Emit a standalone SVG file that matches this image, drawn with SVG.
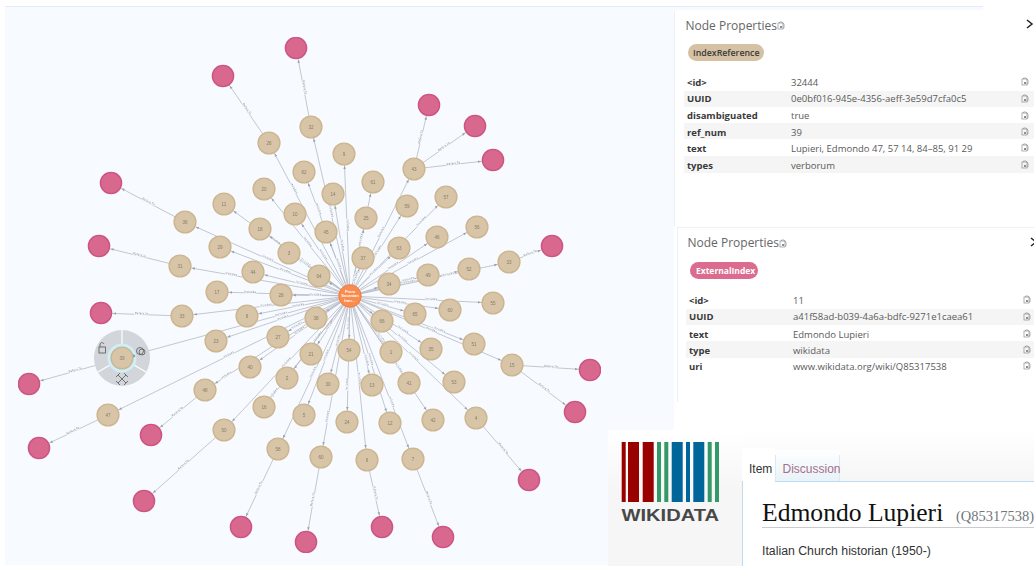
<svg xmlns="http://www.w3.org/2000/svg" width="1034" height="566" viewBox="0 0 1034 566">
<style>
.e path{fill:none;stroke:#b4b9c4;stroke-width:.8}
.r{marker-end:url(#ar)}
.l{marker-start:url(#al)}
.e text{font:3.200px "Liberation Sans",sans-serif;fill:#747783;text-anchor:middle;stroke:#f7fbff;stroke-width:1.200;paint-order:stroke}
.t circle{fill:#d8c4a6;stroke:#cdb58f;stroke-width:1.400;r:10.900px}
.t text{font:4.600px "Liberation Sans",sans-serif;fill:#857d6a;text-anchor:middle}
.p circle{fill:#d9688f;stroke:#cd5280;stroke-width:1.400;r:10.600px}
.k{font:bold 9.500px "Open Sans",sans-serif;fill:#3a3a3a}
.v{font:9.500px "Open Sans",sans-serif;fill:#5a5a5a}
.h{font:12px "Open Sans",sans-serif;fill:#666}
.b{fill:#f5f5f5}
.c{fill:none;stroke:#8a8f94;stroke-width:.7}
</style>
<defs>
<marker id="ar" markerUnits="userSpaceOnUse" overflow="visible" orient="auto" markerWidth="1" markerHeight="1" refX="0" refY="0"><path d="M-12 0L-15-1.300V1.300Z" fill="#9aa0ae"/></marker>
<marker id="al" markerUnits="userSpaceOnUse" overflow="visible" orient="auto" markerWidth="1" markerHeight="1" refX="0" refY="0"><path d="M12 0L15-1.300V1.300Z" fill="#9aa0ae"/></marker>
<g id="cp"><rect class="c" x="0" y="1" width="5" height="6"/><path class="c" d="M1.500 1V0H4L6 2V6H5"/><rect x="2" y="4" width="2" height="2" fill="#8a8f94"/></g>
<linearGradient id="wg" x1="0" y1="0" x2="0" y2="1"><stop offset="0" stop-color="#fff"/><stop offset="1" stop-color="#f6f6f6"/></linearGradient>
<linearGradient id="tg" x1="0" y1="0" x2="0" y2="1"><stop offset="0" stop-color="#fff"/><stop offset="1" stop-color="#e8f2f8"/></linearGradient>
<filter id="soft" x="0" y="0" width="1" height="1"><feGaussianBlur stdDeviation=".35"/></filter>
</defs>
<rect width="1034" height="566" fill="#fff"/>
<rect x="5" y="6" width="978" height="559" fill="#f7fbff"/>
<path d="M5 6.500H983" stroke="#e0edf8" fill="none"/>
<g filter="url(#soft)">
<g id="connectors" class="e">
<path id="a1" class="r" d="M350 296L373 182"/><text><textPath href="#a1" startOffset="50%">Includes</textPath></text>
<path id="a2" class="r" d="M350 296L366 218"/><text><textPath href="#a2" startOffset="72%">Includes</textPath></text>
<path id="a3" class="r" d="M350 296L363 258"/><text><textPath href="#a3" startOffset="50%">Includes</textPath></text>
<path id="a4" class="r" d="M350 296L414 169"/><text><textPath href="#a4" startOffset="50%">Includes</textPath></text>
<path id="a5" class="r" d="M350 296L407 206"/><text><textPath href="#a5" startOffset="50%">Includes</textPath></text>
<path id="a6" class="r" d="M350 296L446 197"/><text><textPath href="#a6" startOffset="75%">Includes</textPath></text>
<path id="a7" class="r" d="M350 296L399 248"/><text><textPath href="#a7" startOffset="50%">Includes</textPath></text>
<path id="a8" class="r" d="M350 296L437 237"/><text><textPath href="#a8" startOffset="50%">Includes</textPath></text>
<path id="a9" class="r" d="M350 296L477 227"/><text><textPath href="#a9" startOffset="50%">Includes</textPath></text>
<path id="a10" class="r" d="M350 296L428 275"/><text><textPath href="#a10" startOffset="75%">Includes</textPath></text>
<path id="a11" class="r" d="M350 296L469 269"/><text><textPath href="#a11" startOffset="50%">Includes</textPath></text>
<path id="a12" class="r" d="M350 296L509 262"/><text><textPath href="#a12" startOffset="62%">Includes</textPath></text>
<path id="a13" class="r" d="M350 296L389 284"/>
<path id="a14" class="r" d="M350 296L493 303"/><text><textPath href="#a14" startOffset="57%">Includes</textPath></text>
<path id="a15" class="r" d="M350 296L415 314"/><text><textPath href="#a15" startOffset="50%">Includes</textPath></text>
<path id="a16" class="r" d="M350 296L382 321"/>
<path id="a17" class="r" d="M350 296L450 310"/><text><textPath href="#a17" startOffset="50%">Includes</textPath></text>
<path id="a18" class="r" d="M350 296L474 344"/><text><textPath href="#a18" startOffset="72%">Includes</textPath></text>
<path id="a19" class="r" d="M350 296L512 365"/><text><textPath href="#a19" startOffset="50%">Includes</textPath></text>
<path id="a20" class="r" d="M350 296L431 349"/><text><textPath href="#a20" startOffset="65%">Includes</textPath></text>
<path id="a21" class="r" d="M350 296L391 352"/><text><textPath href="#a21" startOffset="75%">Includes</textPath></text>
<path id="a22" class="r" d="M350 296L372 385"/><text><textPath href="#a22" startOffset="72%">Includes</textPath></text>
<path id="a23" class="r" d="M350 296L409 383"/><text><textPath href="#a23" startOffset="50%">Includes</textPath></text>
<path id="a24" class="r" d="M350 296L454 382"/><text><textPath href="#a24" startOffset="50%">Includes</textPath></text>
<path id="a25" class="r" d="M350 296L390 423"/><text><textPath href="#a25" startOffset="50%">Includes</textPath></text>
<path id="a26" class="r" d="M350 296L433 420"/><text><textPath href="#a26" startOffset="58%">Includes</textPath></text>
<path id="a27" class="r" d="M350 296L476 418"/><text><textPath href="#a27" startOffset="50%">Includes</textPath></text>
<path id="a28" class="r" d="M350 296L367 460"/><text><textPath href="#a28" startOffset="50%">Includes</textPath></text>
<path id="a29" class="r" d="M350 296L413 459"/><text><textPath href="#a29" startOffset="65%">Includes</textPath></text>
<path id="b1" class="l" d="M311 127L350 296"/><text><textPath href="#b1" startOffset="50%">Includes</textPath></text>
<path id="b2" class="l" d="M269 143L350 296"/><text><textPath href="#b2" startOffset="30%">Includes</textPath></text>
<path id="b3" class="l" d="M304 172L350 296"/><text><textPath href="#b3" startOffset="30%">Includes</textPath></text>
<path id="b4" class="l" d="M264 189L350 296"/><text><textPath href="#b4" startOffset="50%">Includes</textPath></text>
<path id="b5" class="l" d="M224 204L350 296"/><text><textPath href="#b5" startOffset="40%">Includes</textPath></text>
<path id="b6" class="l" d="M333 194L350 296"/><text><textPath href="#b6" startOffset="50%">Includes</textPath></text>
<path id="b7" class="l" d="M295 214L350 296"/><text><textPath href="#b7" startOffset="50%">Includes</textPath></text>
<path id="b8" class="l" d="M260 229L350 296"/><text><textPath href="#b8" startOffset="50%">Includes</textPath></text>
<path id="b9" class="l" d="M326 232L350 296"/><text><textPath href="#b9" startOffset="50%">Includes</textPath></text>
<path id="b10" class="l" d="M185 222L350 296"/><text><textPath href="#b10" startOffset="50%">Includes</textPath></text>
<path id="b11" class="l" d="M220 247L350 296"/><text><textPath href="#b11" startOffset="50%">Includes</textPath></text>
<path id="b12" class="l" d="M289 253L350 296"/><text><textPath href="#b12" startOffset="25%">Includes</textPath></text>
<path id="b13" class="l" d="M319 276L350 296"/>
<path id="b14" class="l" d="M253 272L350 296"/><text><textPath href="#b14" startOffset="50%">Includes</textPath></text>
<path id="b15" class="l" d="M180 266L350 296"/><text><textPath href="#b15" startOffset="30%">Includes</textPath></text>
<path id="b16" class="l" d="M344 154L350 296"/><text><textPath href="#b16" startOffset="50%">Includes</textPath></text>
<path id="b17" class="l" d="M217 292L350 296"/><text><textPath href="#b17" startOffset="25%">Includes</textPath></text>
<path id="b18" class="l" d="M281 295L350 296"/><text><textPath href="#b18" startOffset="50%">Includes</textPath></text>
<path id="b19" class="l" d="M182 316L350 296"/><text><textPath href="#b19" startOffset="50%">Includes</textPath></text>
<path id="b20" class="l" d="M247 316L350 296"/><text><textPath href="#b20" startOffset="50%">Includes</textPath></text>
<path id="b21" class="l" d="M316 318L350 296"/>
<path id="b22" class="l" d="M216 341L350 296"/><text><textPath href="#b22" startOffset="50%">Includes</textPath></text>
<path id="b23" class="l" d="M278 337L350 296"/><text><textPath href="#b23" startOffset="27%">Includes</textPath></text>
<path id="b24" class="l" d="M122 358L350 296"/><text><textPath href="#b24" startOffset="70%">Includes</textPath></text>
<path id="b25" class="l" d="M311 354L350 296"/><text><textPath href="#b25" startOffset="50%">Includes</textPath></text>
<path id="b26" class="l" d="M250 367L350 296"/><text><textPath href="#b26" startOffset="50%">Includes</textPath></text>
<path id="b27" class="l" d="M287 378L350 296"/><text><textPath href="#b27" startOffset="50%">Includes</textPath></text>
<path id="b28" class="l" d="M328 384L350 296"/><text><textPath href="#b28" startOffset="50%">Includes</textPath></text>
<path id="b29" class="l" d="M205 390L350 296"/><text><textPath href="#b29" startOffset="15%">Includes</textPath></text>
<path id="b30" class="l" d="M264 407L350 296"/><text><textPath href="#b30" startOffset="12%">Includes</textPath></text>
<path id="b31" class="l" d="M304 415L350 296"/><text><textPath href="#b31" startOffset="50%">Includes</textPath></text>
<path id="b32" class="l" d="M108 415L350 296"/><text><textPath href="#b32" startOffset="50%">Includes</textPath></text>
<path id="b33" class="l" d="M224 430L350 296"/><text><textPath href="#b33" startOffset="50%">Includes</textPath></text>
<path id="b34" class="l" d="M278 449L350 296"/><text><textPath href="#b34" startOffset="50%">Includes</textPath></text>
<path id="b35" class="l" d="M321 457L350 296"/><text><textPath href="#b35" startOffset="25%">Includes</textPath></text>
<path id="b36" class="l" d="M349 350L350 296"/><text><textPath href="#b36" startOffset="50%">Includes</textPath></text>
<path id="b37" class="l" d="M347 422L350 296"/><text><textPath href="#b37" startOffset="30%">Includes</textPath></text>
<path id="c1" class="l" d="M296 48L311 127"/><text><textPath href="#c1" startOffset="50%">Refers To</textPath></text>
<path id="c2" class="l" d="M223 76L269 143"/><text><textPath href="#c2" startOffset="50%">Refers To</textPath></text>
<path id="c3" class="l" d="M111 183L185 222"/><text><textPath href="#c3" startOffset="50%">Refers To</textPath></text>
<path id="c4" class="l" d="M99 246L180 266"/><text><textPath href="#c4" startOffset="50%">Refers To</textPath></text>
<path id="c5" class="l" d="M101 313L182 316"/><text><textPath href="#c5" startOffset="50%">Refers To</textPath></text>
<path id="c6" class="l" d="M29 384L122 358"/><text><textPath href="#c6" startOffset="50%">Refers To</textPath></text>
<path id="c7" class="l" d="M39 448L108 415"/><text><textPath href="#c7" startOffset="50%">Refers To</textPath></text>
<path id="c8" class="l" d="M151 435L205 390"/><text><textPath href="#c8" startOffset="50%">Refers To</textPath></text>
<path id="c9" class="l" d="M144 501L224 430"/><text><textPath href="#c9" startOffset="50%">Refers To</textPath></text>
<path id="c10" class="l" d="M241 527L278 449"/><text><textPath href="#c10" startOffset="50%">Refers To</textPath></text>
<path id="c11" class="l" d="M306 542L321 457"/><text><textPath href="#c11" startOffset="50%">Refers To</textPath></text>
<path id="c12" class="r" d="M367 460L382 527"/><text><textPath href="#c12" startOffset="50%">Refers To</textPath></text>
<path id="c13" class="r" d="M413 459L443 537"/><text><textPath href="#c13" startOffset="50%">Refers To</textPath></text>
<path id="c14" class="r" d="M476 418L529 480"/><text><textPath href="#c14" startOffset="50%">Refers To</textPath></text>
<path id="c15" class="r" d="M512 365L590 370"/><text><textPath href="#c15" startOffset="50%">Refers To</textPath></text>
<path id="c16" class="r" d="M512 365L575 412"/><text><textPath href="#c16" startOffset="50%">Refers To</textPath></text>
<path id="c17" class="r" d="M414 169L429 105"/><text><textPath href="#c17" startOffset="50%">Refers To</textPath></text>
<path id="c18" class="r" d="M414 169L475 126"/><text><textPath href="#c18" startOffset="50%">Refers To</textPath></text>
<path id="c19" class="r" d="M414 169L493 160"/><text><textPath href="#c19" startOffset="50%">Refers To</textPath></text>
<path id="c20" class="r" d="M509 262L552 246"/><text><textPath href="#c20" startOffset="50%">Refers To</textPath></text>
</g>
<g id="menu39">
<circle cx="122" cy="358" r="28" fill="#d2d5da"/>
<path d="M122 344V330M134 365L146 372M110 365L98 372" stroke="#fff" stroke-width="1.200"/>
<circle cx="122" cy="358" r="14.500" fill="#cdeefb"/>
<path d="M135.500 356L133 354V358Z" fill="#6c8fb0"/>
<g fill="none" stroke="#555" stroke-width=".8"><rect x="99" y="347" width="6.500" height="6"/><path d="M100 347V345C100 342 103 342 104 344"/>
<circle cx="140" cy="351" r="3.500"/><circle cx="142" cy="352" r="3"/>
<path d="M118 375L126 383M126 375L118 383M116 377L120 373M124 385L128 381M116 381L120 385M124 373L128 377"/></g>
</g>
<g id="n39" class="t"><circle cx="122" cy="358" r="11"/><text x="122" y="359.700">39</text></g>
<g id="n61" class="t"><circle cx="373" cy="182" r="11"/><text x="373" y="183.700">61</text></g>
<g id="n25" class="t"><circle cx="366" cy="218" r="11"/><text x="366" y="219.700">25</text></g>
<g id="n37" class="t"><circle cx="363" cy="258" r="11"/><text x="363" y="259.700">37</text></g>
<g id="n43" class="t"><circle cx="414" cy="169" r="11"/><text x="414" y="170.700">43</text></g>
<g id="n59" class="t"><circle cx="407" cy="206" r="11"/><text x="407" y="207.700">59</text></g>
<g id="n57" class="t"><circle cx="446" cy="197" r="11"/><text x="446" y="198.700">57</text></g>
<g id="n63" class="t"><circle cx="399" cy="248" r="11"/><text x="399" y="249.700">63</text></g>
<g id="n46" class="t"><circle cx="437" cy="237" r="11"/><text x="437" y="238.700">46</text></g>
<g id="n56" class="t"><circle cx="477" cy="227" r="11"/><text x="477" y="228.700">56</text></g>
<g id="n49" class="t"><circle cx="428" cy="275" r="11"/><text x="428" y="276.700">49</text></g>
<g id="n52" class="t"><circle cx="469" cy="269" r="11"/><text x="469" y="270.700">52</text></g>
<g id="n32" class="t"><circle cx="509" cy="262" r="11"/><text x="509" y="263.700">33</text></g>
<g id="n34" class="t"><circle cx="389" cy="284" r="11"/><text x="389" y="285.700">34</text></g>
<g id="n55" class="t"><circle cx="493" cy="303" r="11"/><text x="493" y="304.700">55</text></g>
<g id="n65" class="t"><circle cx="415" cy="314" r="11"/><text x="415" y="315.700">65</text></g>
<g id="n66" class="t"><circle cx="382" cy="321" r="11"/><text x="382" y="322.700">66</text></g>
<g id="n60b" class="t"><circle cx="450" cy="310" r="11"/><text x="450" y="311.700">60</text></g>
<g id="n51" class="t"><circle cx="474" cy="344" r="11"/><text x="474" y="345.700">51</text></g>
<g id="n15" class="t"><circle cx="512" cy="365" r="11"/><text x="512" y="366.700">15</text></g>
<g id="n35" class="t"><circle cx="431" cy="349" r="11"/><text x="431" y="350.700">35</text></g>
<g id="n1" class="t"><circle cx="391" cy="352" r="11"/><text x="391" y="353.700">1</text></g>
<g id="n13" class="t"><circle cx="372" cy="385" r="11"/><text x="372" y="386.700">13</text></g>
<g id="n41" class="t"><circle cx="409" cy="383" r="11"/><text x="409" y="384.700">41</text></g>
<g id="n53" class="t"><circle cx="454" cy="382" r="11"/><text x="454" y="383.700">53</text></g>
<g id="n12" class="t"><circle cx="390" cy="423" r="11"/><text x="390" y="424.700">12</text></g>
<g id="n42" class="t"><circle cx="433" cy="420" r="11"/><text x="433" y="421.700">42</text></g>
<g id="n4" class="t"><circle cx="476" cy="418" r="11"/><text x="476" y="419.700">4</text></g>
<g id="n6" class="t"><circle cx="367" cy="460" r="11"/><text x="367" y="461.700">6</text></g>
<g id="n7" class="t"><circle cx="413" cy="459" r="11"/><text x="413" y="460.700">7</text></g>
<g id="n22" class="t"><circle cx="311" cy="127" r="11"/><text x="311" y="128.700">32</text></g>
<g id="n26" class="t"><circle cx="269" cy="143" r="11"/><text x="269" y="144.700">26</text></g>
<g id="n62" class="t"><circle cx="304" cy="172" r="11"/><text x="304" y="173.700">62</text></g>
<g id="n20" class="t"><circle cx="264" cy="189" r="11"/><text x="264" y="190.700">20</text></g>
<g id="n11" class="t"><circle cx="224" cy="204" r="11"/><text x="224" y="205.700">11</text></g>
<g id="n14" class="t"><circle cx="333" cy="194" r="11"/><text x="333" y="195.700">14</text></g>
<g id="n10" class="t"><circle cx="295" cy="214" r="11"/><text x="295" y="215.700">10</text></g>
<g id="n18" class="t"><circle cx="260" cy="229" r="11"/><text x="260" y="230.700">18</text></g>
<g id="n45" class="t"><circle cx="326" cy="232" r="11"/><text x="326" y="233.700">45</text></g>
<g id="n36" class="t"><circle cx="185" cy="222" r="11"/><text x="185" y="223.700">36</text></g>
<g id="n29" class="t"><circle cx="220" cy="247" r="11"/><text x="220" y="248.700">29</text></g>
<g id="n3" class="t"><circle cx="289" cy="253" r="11"/><text x="289" y="254.700">3</text></g>
<g id="n64" class="t"><circle cx="319" cy="276" r="11"/><text x="319" y="277.700">64</text></g>
<g id="n44" class="t"><circle cx="253" cy="272" r="11"/><text x="253" y="273.700">44</text></g>
<g id="n31" class="t"><circle cx="180" cy="266" r="11"/><text x="180" y="267.700">31</text></g>
<g id="n9" class="t"><circle cx="344" cy="154" r="11"/><text x="344" y="155.700">9</text></g>
<g id="n17" class="t"><circle cx="217" cy="292" r="11"/><text x="217" y="293.700">17</text></g>
<g id="n28" class="t"><circle cx="281" cy="295" r="11"/><text x="281" y="296.700">28</text></g>
<g id="n33" class="t"><circle cx="182" cy="316" r="11"/><text x="182" y="317.700">33</text></g>
<g id="n8" class="t"><circle cx="247" cy="316" r="11"/><text x="247" y="317.700">8</text></g>
<g id="n38" class="t"><circle cx="316" cy="318" r="11"/><text x="316" y="319.700">38</text></g>
<g id="n23" class="t"><circle cx="216" cy="341" r="11"/><text x="216" y="342.700">23</text></g>
<g id="n27" class="t"><circle cx="278" cy="337" r="11"/><text x="278" y="338.700">27</text></g>
<g id="n21" class="t"><circle cx="311" cy="354" r="11"/><text x="311" y="355.700">21</text></g>
<g id="n40" class="t"><circle cx="250" cy="367" r="11"/><text x="250" y="368.700">40</text></g>
<g id="n2" class="t"><circle cx="287" cy="378" r="11"/><text x="287" y="379.700">2</text></g>
<g id="n30" class="t"><circle cx="328" cy="384" r="11"/><text x="328" y="385.700">30</text></g>
<g id="n48" class="t"><circle cx="205" cy="390" r="11"/><text x="205" y="391.700">48</text></g>
<g id="n16" class="t"><circle cx="264" cy="407" r="11"/><text x="264" y="408.700">16</text></g>
<g id="n5" class="t"><circle cx="304" cy="415" r="11"/><text x="304" y="416.700">5</text></g>
<g id="n47" class="t"><circle cx="108" cy="415" r="11"/><text x="108" y="416.700">47</text></g>
<g id="n50" class="t"><circle cx="224" cy="430" r="11"/><text x="224" y="431.700">50</text></g>
<g id="n58" class="t"><circle cx="278" cy="449" r="11"/><text x="278" y="450.700">58</text></g>
<g id="n60" class="t"><circle cx="321" cy="457" r="11"/><text x="321" y="458.700">60</text></g>
<g id="n54" class="t"><circle cx="349" cy="350" r="11"/><text x="349" y="351.700">54</text></g>
<g id="n24" class="t"><circle cx="347" cy="422" r="11"/><text x="347" y="423.700">24</text></g>
<g class="p">
<g id="p1"><circle cx="296" cy="48" r="11"/></g>
<g id="p2"><circle cx="223" cy="76" r="11"/></g>
<g id="p3"><circle cx="111" cy="183" r="11"/></g>
<g id="p4"><circle cx="99" cy="246" r="11"/></g>
<g id="p5"><circle cx="101" cy="313" r="11"/></g>
<g id="p6"><circle cx="29" cy="384" r="11"/></g>
<g id="p7"><circle cx="39" cy="448" r="11"/></g>
<g id="p8"><circle cx="151" cy="435" r="11"/></g>
<g id="p9"><circle cx="144" cy="501" r="11"/></g>
<g id="p10"><circle cx="241" cy="527" r="11"/></g>
<g id="p11"><circle cx="306" cy="542" r="11"/></g>
<g id="p12"><circle cx="382" cy="527" r="11"/></g>
<g id="p13"><circle cx="443" cy="537" r="11"/></g>
<g id="p14"><circle cx="529" cy="480" r="11"/></g>
<g id="p15"><circle cx="590" cy="370" r="11"/></g>
<g id="p16"><circle cx="575" cy="412" r="11"/></g>
<g id="p17"><circle cx="429" cy="105" r="11"/></g>
<g id="p18"><circle cx="475" cy="126" r="11"/></g>
<g id="p19"><circle cx="493" cy="160" r="11"/></g>
<g id="p20"><circle cx="552" cy="246" r="11"/></g>
</g>
<g id="center"><circle cx="350" cy="296" r="11.200" fill="#fb8c4e" stroke="#f27b3c"/>
<g font-family="'Liberation Sans',sans-serif" font-weight="bold" font-size="4" fill="#fff" text-anchor="middle"><text x="350" y="292.800">From</text><text x="350" y="297.300">Sasanian</text><text x="350" y="301.600">Iran…</text></g></g>
</g>
<g id="panel1">
<rect x="674" y="10" width="360" height="216" fill="#fff"/>
<path d="M674.500 10V226" stroke="#eef1f5"/>
<text class="h" x="685.500" y="30">Node Properties</text>
<use href="#cp" x="778" y="22"/>
<path d="M1027 20L1032 24L1027 28" fill="none" stroke="#222" stroke-width="1.500"/>
<rect x="688" y="44" width="76" height="17" rx="8.500" fill="#d5c1a3"/>
<text x="693" y="55.500" font-family="'Open Sans',sans-serif" font-size="8.800" font-weight="600" fill="#3a3a3a">IndexReference</text>
<rect class="b" x="684" y="91" width="350" height="16"/><rect class="b" x="684" y="123" width="350" height="16"/><rect class="b" x="684" y="156" width="350" height="17"/>
<text class="k" x="687" y="86">&lt;id&gt;</text><text class="v" x="791" y="86">32444</text>
<text class="k" x="687" y="102">UUID</text><text class="v" x="791" y="102">0e0bf016-945e-4356-aeff-3e59d7cfa0c5</text>
<text class="k" x="687" y="119">disambiguated</text><text class="v" x="791" y="119">true</text>
<text class="k" x="687" y="136">ref_num</text><text class="v" x="791" y="136">39</text>
<text class="k" x="687" y="152">text</text><text class="v" x="791" y="152">Lupieri, Edmondo 47, 57 14, 84–85, 91 29</text>
<text class="k" x="687" y="169">types</text><text class="v" x="791" y="169">verborum</text>
<use href="#cp" x="1022" y="78"/><use href="#cp" x="1022" y="95"/><use href="#cp" x="1022" y="112"/><use href="#cp" x="1022" y="128"/><use href="#cp" x="1022" y="144"/><use href="#cp" x="1022" y="161"/>
</g>
<g id="panel2">
<rect x="674" y="226" width="360" height="204" fill="#fff"/>
<path d="M677.500 228V402M677 227.500H1034" stroke="#eef1f5" fill="none"/>
<text class="h" x="687.500" y="247">Node Properties</text>
<use href="#cp" x="780" y="240"/>
<path d="M1031 238L1036 242L1031 246" fill="none" stroke="#222" stroke-width="1.500"/>
<rect x="690" y="262" width="68" height="17" rx="8.500" fill="#dc6b90"/>
<text x="696" y="273.500" font-family="'Open Sans',sans-serif" font-size="8.500" font-weight="700" fill="#fff">ExternalIndex</text>
<rect class="b" x="686" y="309" width="348" height="16"/><rect class="b" x="686" y="341" width="348" height="17"/>
<text class="k" x="689" y="304">&lt;id&gt;</text><text class="v" x="793" y="304">11</text>
<text class="k" x="689" y="320">UUID</text><text class="v" x="793" y="320">a41f58ad-b039-4a6a-bdfc-9271e1caea61</text>
<text class="k" x="689" y="338">text</text><text class="v" x="793" y="338">Edmondo Lupieri</text>
<text class="k" x="689" y="354">type</text><text class="v" x="793" y="354">wikidata</text>
<text class="k" x="689" y="370">uri</text><text class="v" x="793" y="370">www.wikidata.org/wiki/Q85317538</text>
<use href="#cp" x="1024" y="296"/><use href="#cp" x="1024" y="313"/><use href="#cp" x="1024" y="330"/><use href="#cp" x="1024" y="346"/><use href="#cp" x="1024" y="362"/>
</g>
<g id="wikidata">
<rect x="608" y="430" width="426" height="136" fill="#fff"/>
<rect x="608" y="430" width="134" height="136" fill="#f6f6f6"/>
<rect x="608" y="430" width="134" height="60" fill="url(#wg)"/>
<rect x="742" y="430" width="292" height="51" fill="url(#wg)"/>
<g fill="#990000"><rect x="621.700" y="442" width="4" height="60"/><rect x="628" y="442" width="11" height="60"/><rect x="642.700" y="442" width="11" height="60"/></g>
<g fill="#339966"><rect x="657" y="442" width="4" height="60"/><rect x="664.300" y="442" width="4" height="60"/><rect x="707.700" y="442" width="4" height="60"/><rect x="715" y="442" width="4" height="60"/></g>
<g fill="#006699"><rect x="671.700" y="442" width="11" height="60"/><rect x="686" y="442" width="4" height="60"/><rect x="693.300" y="442" width="11" height="60"/></g>
<text x="621.500" y="520.800" font-family="'Liberation Sans',sans-serif" font-weight="bold" font-size="16.500" fill="#484848" textLength="97.500" lengthAdjust="spacingAndGlyphs">WIKIDATA</text>
<rect x="742" y="448" width="33" height="34" fill="#fff"/>
<rect x="775" y="450" width="65" height="31" fill="url(#tg)"/>
<path d="M742.500 481V566M775 481.500H1034" stroke="#bcdcf3" fill="none"/>
<path d="M775.500 455V481M839.500 455V481" stroke="#dbe9f4" fill="none"/>
<text x="749" y="473" font-family="'Liberation Sans',sans-serif" font-size="12" fill="#333">Item</text>
<text x="782.500" y="473" font-family="'Liberation Sans',sans-serif" font-size="12" fill="#a5708a">Discussion</text>
<text x="762" y="521" font-family="'Liberation Serif',serif" font-size="25.600" fill="#111">Edmondo Lupieri</text>
<text x="956" y="521" font-family="'Liberation Serif',serif" font-size="14.500" fill="#72777d">(Q85317538)</text>
<path d="M762 527.500H1034" stroke="#c8ccd1"/>
<text x="762" y="555" font-family="'Liberation Sans',sans-serif" font-size="12.300" fill="#333">Italian Church historian (1950-)</text>
</g>
</svg>
